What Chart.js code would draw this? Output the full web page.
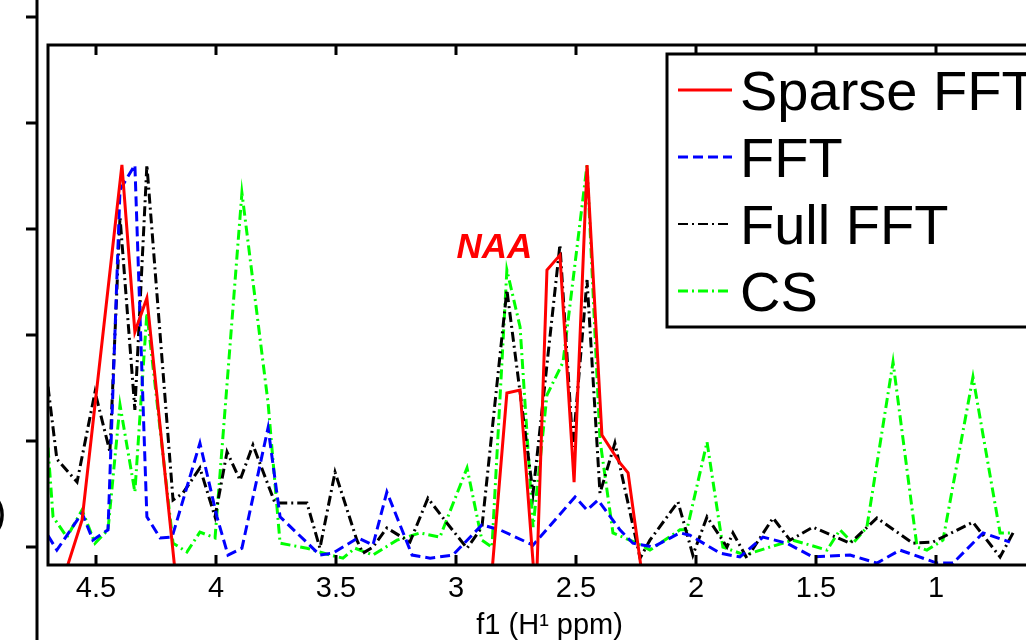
<!DOCTYPE html>
<html>
<head>
<meta charset="utf-8">
<script src="https://cdn.jsdelivr.net/npm/chart.js@4.4.1/dist/chart.umd.min.js"></script>
<style>
  html, body { margin: 0; padding: 0; background: #fff; overflow: hidden; }
  #wrap { position: absolute; left: 0; top: 0; width: 1100px; height: 640px; }
</style>
</head>
<body>
<div id="wrap"><canvas id="chart1"></canvas></div>
<script>
// chemical shift (ppm) and normalised amplitude
let sparsePpm = [4.70, 4.558, 4.392, 4.338, 4.288, 4.158, 2.86, 2.788, 2.733, 2.667, 2.621, 2.567, 2.508, 2.454, 2.392, 2.317, 2.283, 2.21, 0.65];
let sparseAmp = [-0.21, 0.071, 1.0, 0.563, 0.652, -0.14, -0.14, 0.403, 0.411, -0.14, 0.725, 0.764, 0.170, 1.0, 0.293, 0.220, 0.194, -0.14, -0.14];

let fftPpm = [4.70, 4.663, 4.558, 4.513, 4.45, 4.40, 4.338, 4.288, 4.233, 4.183, 4.067, 3.996, 3.95, 3.892, 3.783, 3.733, 3.567, 3.513, 3.408, 3.346, 3.288, 3.183, 3.108, 3.013, 2.892, 2.817, 2.679, 2.504, 2.454, 2.408, 2.317, 2.263, 2.179, 2.067, 2.025, 1.90, 1.817, 1.721, 1.621, 1.513, 1.358, 1.246, 1.15, 0.996, 0.929, 0.804, 0.692];
let fftAmp = [0.03, -0.008, 0.089, 0.018, 0.045, 0.935, 1.0, 0.079, 0.024, 0.026, 0.272, 0.079, -0.021, -0.003, 0.312, 0.079, -0.021, -0.016, 0.024, 0.005, 0.144, -0.021, -0.029, -0.021, 0.058, 0.045, 0.005, 0.131, 0.097, 0.123, 0.045, 0.010, 0.0, 0.037, 0.031, -0.016, -0.026, 0.026, 0.010, -0.026, -0.021, -0.042, -0.008, -0.042, -0.042, 0.037, 0.013];

let fullPpm = [4.70, 4.663, 4.579, 4.504, 4.442, 4.40, 4.338, 4.288, 4.179, 4.138, 4.067, 4.004, 3.954, 3.90, 3.846, 3.754, 3.621, 3.567, 3.504, 3.413, 3.388, 3.346, 3.288, 3.192, 3.117, 3.038, 2.954, 2.892, 2.788, 2.679, 2.567, 2.513, 2.454, 2.40, 2.338, 2.233, 2.192, 2.075, 2.013, 1.954, 1.871, 1.846, 1.788, 1.679, 1.608, 1.513, 1.358, 1.246, 1.096, 1.013, 0.846, 0.733, 0.679];
let fullAmp = [0.42, 0.23, 0.17, 0.406, 0.249, 0.864, 0.359, 1.0, 0.123, 0.141, 0.207, 0.079, 0.249, 0.175, 0.267, 0.115, 0.115, -0.003, 0.196, 0.018, -0.016, 0.0, 0.05, 0.013, 0.128, 0.063, -0.003, 0.052, 0.673, 0.141, 0.791, 0.262, 0.699, 0.141, 0.272, -0.029, 0.018, 0.118, -0.021, 0.079, 0.0, 0.037, -0.029, 0.076, 0.018, 0.052, 0.010, 0.076, 0.010, 0.013, 0.065, -0.026, 0.037];

let csPpm = [4.70, 4.679, 4.621, 4.558, 4.504, 4.45, 4.40, 4.338, 4.288, 4.179, 4.121, 4.067, 4.004, 3.892, 3.783, 3.733, 3.621, 3.525, 3.471, 3.421, 3.346, 3.246, 3.15, 3.067, 2.954, 2.892, 2.85, 2.788, 2.733, 2.679, 2.621, 2.554, 2.454, 2.40, 2.346, 2.246, 2.192, 2.067, 2.038, 1.954, 1.888, 1.796, 1.692, 1.596, 1.454, 1.40, 1.346, 1.288, 1.179, 1.079, 1.038, 0.971, 0.846, 0.733, 0.683];
let csAmp = [0.26, 0.079, 0.026, 0.097, 0.010, 0.045, 0.372, 0.144, 0.613, 0.010, -0.013, 0.039, 0.024, 0.927, 0.377, 0.010, -0.003, -0.021, -0.029, -0.003, -0.021, 0.018, 0.037, 0.026, 0.207, 0.018, 0.0, 0.725, 0.576, 0.052, 0.398, 0.484, 1.0, 0.280, 0.037, 0.010, -0.008, 0.045, 0.045, 0.275, 0.0, -0.021, 0.0, 0.018, -0.008, 0.045, 0.010, 0.052, 0.484, 0.0, -0.008, 0.018, 0.445, 0.037, 0.037];

let xTicks = [4.5, 4, 3.5, 3, 2.5, 2, 1.5, 1, 0.5];
let labels = ['Sparse FFT', 'FFT', 'Full FFT', 'CS'];

const FONT = "'Liberation Sans', Arial, Helvetica, sans-serif";

function pts(xs, ys) {
  return xs.map((x, i) => ({x: x, y: ys[i]}));
}

let data1 = {
  datasets: [{
    label: labels[0],
    data: pts(sparsePpm, sparseAmp),
    borderColor: '#ff0000',
    borderWidth: 3
  }, {
    label: labels[1],
    data: pts(fftPpm, fftAmp),
    borderColor: '#0000ff',
    borderWidth: 3,
    borderDash: [10, 5]
  }, {
    label: labels[2],
    data: pts(fullPpm, fullAmp),
    borderColor: '#000000',
    borderWidth: 3,
    borderDash: [10, 4, 2, 4]
  }, {
    label: labels[3],
    data: pts(csPpm, csAmp),
    borderColor: '#00ff00',
    borderWidth: 3,
    borderDash: [10, 4, 2, 4]
  }]
};

// box, inward ticks, legend, annotation and the axis of the panel on the left
let frame = {
  id: 'frame',
  beforeDraw(chart) {
    let c = chart.ctx;
    let y0 = chart.scales.y.getPixelForValue(0);
    c.save();
    c.fillStyle = '#fff';
    c.fillRect(0, 0, chart.width, chart.height);
    c.strokeStyle = '#000';
    c.lineWidth = 3;
    c.beginPath();
    c.moveTo(37, 0);
    c.lineTo(37, chart.height);
    for (let y = y0; y > 0; y -= 106) {
      c.moveTo(26, y);
      c.lineTo(37, y);
    }
    c.stroke();
    c.fillStyle = '#000';
    c.font = '40px ' + FONT;
    c.textBaseline = 'alphabetic';
    c.fillText(')', -7, 526);
    c.restore();
  },
  afterDraw(chart) {
    let c = chart.ctx;
    let a = chart.chartArea;
    let sx = chart.scales.x;
    let sy = chart.scales.y;
    c.save();
    c.strokeStyle = '#000';
    c.lineWidth = 3;
    c.strokeRect(a.left, a.top, a.right - a.left, a.bottom - a.top);
    c.beginPath();
    xTicks.forEach(v => {
      let px = sx.getPixelForValue(v);
      c.moveTo(px, a.bottom);
      c.lineTo(px, a.bottom - 10);
      c.moveTo(px, a.top);
      c.lineTo(px, a.top + 10);
    });
    c.stroke();

    // NAA label
    c.fillStyle = '#ff0000';
    c.font = 'italic bold 35px ' + FONT;
    c.textAlign = 'center';
    c.textBaseline = 'alphabetic';
    c.fillText('NAA', sx.getPixelForValue(2.84), sy.getPixelForValue(0.757));

    // axis title
    c.fillStyle = '#000';
    c.font = '29px ' + FONT;
    c.fillText('f1 (H\u00b9 ppm)', sx.getPixelForValue(2.61), 634);

    // legend
    let bx = 667, by = 54;
    c.fillStyle = '#fff';
    c.fillRect(bx, by, chart.width - bx, 273);
    c.lineWidth = 3;
    c.strokeRect(bx, by, chart.width - bx + 20, 273);
    c.font = '56px ' + FONT;
    c.textAlign = 'left';
    chart.data.datasets.forEach((ds, i) => {
      let ry = by + 36 + i * 67;
      c.strokeStyle = ds.borderColor;
      c.lineWidth = i === 2 ? 2 : 3;
      c.setLineDash(ds.borderDash || []);
      c.beginPath();
      c.moveTo(678, ry);
      c.lineTo(732, ry);
      c.stroke();
      c.setLineDash([]);
      c.fillStyle = '#000';
      c.fillText(ds.label, 740, ry + 20);
    });
    c.restore();
  }
};

let ctx1 = document.getElementById('chart1');
let chart1 = new Chart(ctx1, {
  type: 'line',
  data: data1,
  options: {
    responsive: true,
    maintainAspectRatio: false,
    animation: false,
    layout: {
      padding: {left: 48, top: 45, right: 20, bottom: 0}
    },
    elements: {
      point: {radius: 0},
      line: {tension: 0}
    },
    plugins: {
      legend: {display: false},
      tooltip: {enabled: false}
    },
    scales: {
      x: {
        type: 'linear',
        reverse: true,
        min: 0.40,
        max: 4.70,
        grid: {display: false, drawTicks: false},
        border: {display: false},
        afterBuildTicks: (scale) => {
          scale.ticks = xTicks.map(v => ({value: v}));
        },
        afterFit: (scale) => {
          scale.height = 75;
        },
        ticks: {
          padding: 7,
          color: '#000',
          font: {family: FONT, size: 29},
          maxRotation: 0,
          autoSkip: false,
          callback: (v) => String(v)
        }
      },
      y: {
        display: false,
        min: -0.047,
        max: 1.314
      }
    }
  },
  plugins: [frame]
});
</script>
</body>
</html>
